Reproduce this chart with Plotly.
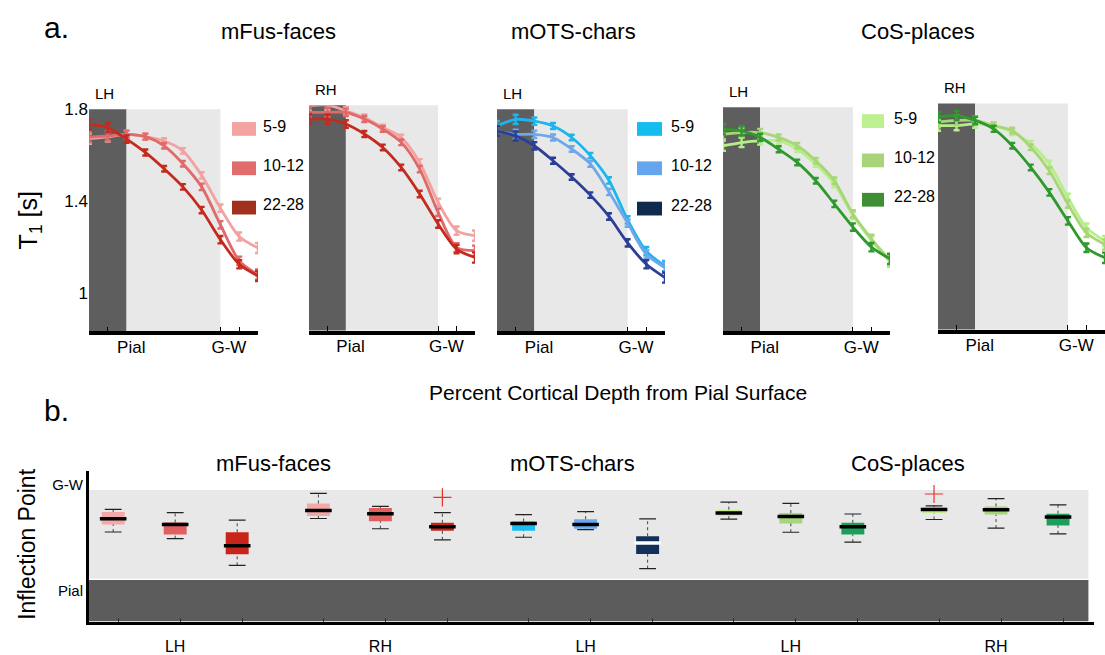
import plotly.graph_objects as go

W, H = 1105, 655
FONT = "Liberation Sans, Arial, Helvetica, sans-serif"

# ---------------- data: panel a (T1 vs cortical depth) ----------------
depth = [-40, -20, 0, 20, 40, 60, 80, 100, 120, 140]
ages = ["5-9", "10-12", "22-28"]

mfus_lh_5_9 = [1.672, 1.680, 1.691, 1.681, 1.662, 1.619, 1.512, 1.369, 1.246, 1.196]
mfus_lh_10_12 = [1.679, 1.684, 1.691, 1.681, 1.641, 1.563, 1.462, 1.297, 1.140, 1.080]
mfus_lh_22_28 = [1.734, 1.720, 1.670, 1.612, 1.541, 1.462, 1.361, 1.232, 1.125, 1.074]

mfus_rh_5_9 = [1.799, 1.801, 1.777, 1.748, 1.705, 1.662, 1.555, 1.383, 1.261, 1.240]
mfus_rh_10_12 = [1.770, 1.770, 1.770, 1.741, 1.698, 1.641, 1.526, 1.340, 1.189, 1.175]
mfus_rh_22_28 = [1.741, 1.741, 1.720, 1.677, 1.619, 1.533, 1.419, 1.290, 1.182, 1.146]

mots_lh_5_9 = [1.727, 1.756, 1.748, 1.727, 1.677, 1.598, 1.490, 1.318, 1.182, 1.117]
mots_lh_10_12 = [1.705, 1.691, 1.691, 1.677, 1.627, 1.562, 1.440, 1.304, 1.168, 1.110]
mots_lh_22_28 = [1.705, 1.684, 1.641, 1.576, 1.505, 1.426, 1.333, 1.218, 1.125, 1.067]

cos_lh_5_9 = [1.634, 1.648, 1.655, 1.655, 1.619, 1.555, 1.469, 1.333, 1.225, 1.132]
cos_lh_10_12 = [1.684, 1.691, 1.691, 1.670, 1.634, 1.569, 1.483, 1.340, 1.232, 1.139]
cos_lh_22_28 = [1.705, 1.698, 1.670, 1.619, 1.562, 1.483, 1.383, 1.283, 1.196, 1.146]

cos_rh_5_9 = [1.705, 1.705, 1.712, 1.705, 1.677, 1.627, 1.541, 1.397, 1.268, 1.211]
cos_rh_10_12 = [1.720, 1.727, 1.727, 1.705, 1.684, 1.612, 1.512, 1.369, 1.246, 1.196]
cos_rh_22_28 = [1.741, 1.748, 1.727, 1.691, 1.619, 1.526, 1.419, 1.297, 1.182, 1.139]

err_a = [0.022, 0.020, 0.016, 0.013, 0.012, 0.012, 0.014, 0.016, 0.018, 0.022]

# ---------------- data: panel b (inflection point boxes) ----------------
roi_groups = ["mFus-faces", "mFus-faces", "mOTS-chars", "CoS-places", "CoS-places"]
hemis = ["LH", "RH", "LH", "LH", "RH"]
box_lower = [53.4, 46.1, 16.4, 68.4, 57.0, 44.7, 47.6, 56.0, 12.7, 67.6, 53.1, 42.2, 67.3, 57.8, 51.3]
box_q1 = [61.8, 50.5, 28.7, 71.2, 65.4, 54.9, 54.9, 57.0, 29.1, 71.2, 62.9, 50.5, 74.5, 72.7, 60.7]
box_median = [68.0, 61.8, 38.2, 77.4, 73.8, 59.2, 62.9, 61.8, 41.1, 74.5, 70.5, 59.2, 78.5, 78.2, 70.1]
box_q3 = [75.6, 64.0, 53.1, 85.1, 80.0, 63.6, 65.1, 67.6, 48.7, 78.2, 74.5, 63.6, 81.0, 81.8, 73.8]
box_upper = [78.5, 74.9, 66.5, 96.3, 81.8, 74.9, 72.7, 76.0, 68.0, 86.5, 85.1, 73.4, 82.5, 90.5, 83.6]
outlier_box = [5, 12]
outlier_value = [91.9, 95.6]

# ---------------- styles ----------------
line_cols = {
    "mFus": ["#F3A2A2", "#E06A6A", "#C62A1E"],
    "mOTS": ["#1DB5EC", "#6EA7EA", "#2B3F96"],
    "CoS": ["#B6EE8A", "#A8D676", "#2E992C"],
}
swatch_cols = {
    "mFus": ["#F4A3A3", "#E06C6C", "#A2301E"],
    "mOTS": ["#13BDEE", "#64A6EE", "#0F2A4D"],
    "CoS": ["#BDF08E", "#A9D47A", "#3D8E34"],
}
box_cols_group = {
    "mFus-faces": ["#F5A8A8", "#E06060", "#C8241A"],
    "mOTS-chars": ["#19BDEF", "#6AAAEE", "#12305A"],
    "CoS-places": ["#C2EE90", "#A6D679", "#1AA05A"],
}
DARK = "#5E5E5E"
LIGHT = "#E8E8E8"


def fx(px):
    return px / W


def fy(py):
    return 1 - py / H


fig = go.Figure()

# roi, hemisphere, series, x extent (px), y extent top/bottom (px)
panels = [
    ("mFus", "LH", [mfus_lh_5_9, mfus_lh_10_12, mfus_lh_22_28], (89, 258), (102, 328)),
    ("mFus", "RH", [mfus_rh_5_9, mfus_rh_10_12, mfus_rh_22_28], (309, 475), (98, 327)),
    ("mOTS", "LH", [mots_lh_5_9, mots_lh_10_12, mots_lh_22_28], (497, 665), (102, 328)),
    ("CoS", "LH", [cos_lh_5_9, cos_lh_10_12, cos_lh_22_28], (723, 890), (100, 328)),
    ("CoS", "RH", [cos_rh_5_9, cos_rh_10_12, cos_rh_22_28], (938, 1105), (96, 326)),
]

shapes = []
annotations = []
layout_axes = {}

for i, (roi, hemi, series, (x0, x1), (yt, yb)) in enumerate(panels, start=1):
    xa = "x" if i == 1 else f"x{i}"
    ya = "y" if i == 1 else f"y{i}"
    for k, vals in enumerate(series):
        fig.add_trace(go.Scatter(
            x=depth, y=vals, xaxis=xa, yaxis=ya, mode="lines",
            line=dict(color=line_cols[roi][k], width=2.8, shape="spline", smoothing=0.8),
            error_y=dict(type="data", array=err_a, color=line_cols[roi][k], thickness=2.4, width=3),
            showlegend=False, cliponaxis=False, hoverinfo="skip",
        ))
    xkey = "xaxis" if i == 1 else f"xaxis{i}"
    ykey = "yaxis" if i == 1 else f"yaxis{i}"
    layout_axes[xkey] = dict(
        domain=[fx(x0), fx(x1)], range=[-40, 140], anchor=ya,
        showgrid=False, zeroline=False, showline=True, linecolor="black", linewidth=3.5,
        tickmode="array", tickvals=[5, 109], ticktext=["Pial", "G-W"], ticks="",
        ticklabelstandoff=-3,
        tickfont=dict(size=17, color="black", family=FONT),
        minor=dict(tickmode="array", tickvals=[-20, 100, 120], ticks="inside", ticklen=5,
                   tickcolor="black", tickwidth=1),
        fixedrange=True,
    )
    layout_axes[ykey] = dict(
        domain=[fy(yb), fy(yt)], range=[0.832, 1.8], anchor=xa,
        showgrid=False, zeroline=False, showline=False,
        tickmode="array", tickvals=[1, 1.4, 1.8], ticktext=["1", "1.4", "1.8"],
        ticks="", showticklabels=(i == 1),
        tickfont=dict(size=17, color="black", family=FONT), fixedrange=True,
    )
    # background zones
    shapes.append(dict(type="rect", xref=xa, yref=f"{ya} domain", x0=-40, x1=0, y0=0, y1=1,
                       fillcolor=DARK, line=dict(width=0), layer="below"))
    shapes.append(dict(type="rect", xref=xa, yref=f"{ya} domain", x0=0, x1=100, y0=0, y1=1,
                       fillcolor=LIGHT, line=dict(width=0), layer="below"))
    # hemisphere label
    annotations.append(dict(text=hemi, x=fx(x0 + 4), y=fy(yt - 16), xref="paper", yref="paper",
                            xanchor="left", yanchor="middle", showarrow=False,
                            font=dict(size=15, color="black", family=FONT)))

# legends (swatches + labels) drawn inside panels 1, 3 and 4
legend_specs = [
    ("mFus", 232, 256, [122, 162, 202], 261),
    ("mOTS", 637, 662, [122, 162, 203], 669),
    ("CoS", 862, 884, [114, 154, 194], 892),
]
for roi, sx0, sx1, ycs, lx in legend_specs:
    for k, yc in enumerate(ycs):
        shapes.append(dict(type="rect", xref="paper", yref="paper",
                           x0=fx(sx0), x1=fx(sx1), y0=fy(yc + 7), y1=fy(yc - 7),
                           fillcolor=swatch_cols[roi][k], line=dict(width=0), layer="above"))
        annotations.append(dict(text=ages[k], x=fx(lx), y=fy(yc - 3), xref="paper", yref="paper",
                                xanchor="left", yanchor="middle", showarrow=False,
                                font=dict(size=16, color="black", family=FONT)))

# ---------------- panel b ----------------
GROUP_PITCH = 3.31
positions = []
colors = []
for g, roi in enumerate(roi_groups):
    for k in range(3):
        positions.append(g * GROUP_PITCH + k)
        colors.append(box_cols_group[roi][k])

heights = [q3 - q1 for q1, q3 in zip(box_q1, box_q3)]
fig.add_trace(go.Bar(
    x=positions, y=heights, base=box_q1, width=0.37, xaxis="x6", yaxis="y6",
    marker=dict(color=colors, line=dict(width=0)), showlegend=False, hoverinfo="skip",
))

wx, wy = [], []
for p, lo, q1, q3, hi in zip(positions, box_lower, box_q1, box_q3, box_upper):
    wx += [p, p, None, p, p, None]
    wy += [lo, q1, None, q3, hi, None]
fig.add_trace(go.Scatter(x=wx, y=wy, xaxis="x6", yaxis="y6", mode="lines",
                         line=dict(color="#444444", width=1, dash="dot"),
                         showlegend=False, hoverinfo="skip"))
fig.add_trace(go.Scatter(x=positions + positions, y=box_lower + box_upper, xaxis="x6", yaxis="y6",
                         mode="markers",
                         marker=dict(symbol="line-ew", size=12, line=dict(color="#222222", width=1.2)),
                         showlegend=False, hoverinfo="skip"))
median_cols = ["white" if (g == 2 and k == 2) else "black" for g in range(5) for k in range(3)]
fig.add_trace(go.Scatter(x=positions, y=box_median, xaxis="x6", yaxis="y6", mode="markers",
                         marker=dict(symbol="line-ew", size=19, color=median_cols,
                                     line=dict(color=median_cols, width=3.5)),
                         showlegend=False, hoverinfo="skip"))
fig.add_trace(go.Scatter(x=[positions[b] for b in outlier_box], y=outlier_value,
                         xaxis="x6", yaxis="y6", mode="markers",
                         marker=dict(symbol="cross-thin", size=13, line=dict(color="#E8332A", width=1.2)),
                         showlegend=False, hoverinfo="skip"))

XB_RANGE = [-0.39, 15.82]
layout_axes["xaxis6"] = dict(
    domain=[fx(89), fx(1094)], range=XB_RANGE, anchor="y6",
    showgrid=False, zeroline=False, showline=True, linecolor="black", linewidth=3,
    tickmode="array", tickvals=[g * GROUP_PITCH + 1 for g in range(5)], ticktext=hemis, ticks="",
    ticklabelstandoff=8,
    tickfont=dict(size=16, color="black", family=FONT),
    minor=dict(tickmode="array", tickvals=[p + 0.08 for p in positions], ticks="inside", ticklen=4,
               tickcolor="#333333", tickwidth=1),
    fixedrange=True,
)
layout_axes["yaxis6"] = dict(
    domain=[fy(623), fy(470)], range=[-46, 121], anchor="x6",
    showgrid=False, zeroline=False, showline=True, linecolor="black", linewidth=3,
    tickmode="array", tickvals=[-12, 106], ticktext=["Pial", "G-W"], ticks="",
    tickfont=dict(size=15, color="black", family=FONT), fixedrange=True,
)
shapes.append(dict(type="rect", xref="x6", yref="y6", x0=XB_RANGE[0], x1=15.73, y0=-46, y1=0,
                   fillcolor="#5C5C5C", line=dict(width=0), layer="below"))
shapes.append(dict(type="rect", xref="x6", yref="y6", x0=XB_RANGE[0], x1=15.73, y0=1.5, y1=100,
                   fillcolor=LIGHT, line=dict(width=0), layer="below"))

# ---------------- text ----------------
def txt(s, px, py, size, angle=0, anchor="center"):
    annotations.append(dict(text=s, x=fx(px), y=fy(py), xref="paper", yref="paper",
                            xanchor=anchor, yanchor="middle", showarrow=False, textangle=angle,
                            font=dict(size=size, color="black", family=FONT)))

txt("a.", 56, 19, 30)
txt("mFus-faces", 278, 23, 22)
txt("mOTS-chars", 573, 23, 22)
txt("CoS-places", 918, 23, 22)
txt("T<sub>1</sub> [s]", 30, 215, 25, angle=-90)
txt("Percent Cortical Depth from Pial Surface", 618, 390, 21)
txt("b.", 56, 408, 30)
txt("mFus-faces", 273, 462, 22)
txt("mOTS-chars", 572, 462, 22)
txt("CoS-places", 908, 462, 22)
txt("Inflection Point", 27, 545, 23, angle=-90)

fig.update_layout(
    width=W, height=H, margin=dict(l=0, r=0, t=0, b=0),
    paper_bgcolor="white", plot_bgcolor="rgba(0,0,0,0)",
    font=dict(family=FONT, color="black"),
    shapes=shapes, annotations=annotations, showlegend=False, barmode="overlay",
    **layout_axes,
)

fig.write_html("out.html", config={"displayModeBar": False})
